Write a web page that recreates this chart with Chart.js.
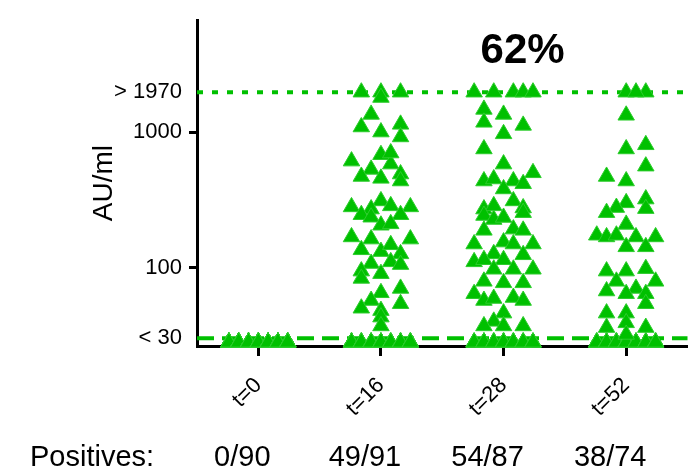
<!DOCTYPE html>
<html>
<head>
<meta charset="utf-8">
<script src="https://cdn.jsdelivr.net/npm/chart.js@4.4.1/dist/chart.umd.min.js"></script>
<style>
  html, body { margin: 0; padding: 0; background: #fff; }
  .chart-container { width: 698px; height: 472px; }
</style>
</head>
<body>
<div class="chart-container"><canvas id="chart" width="698" height="472"></canvas></div>
<script>
// time points on the x axis
const timepoints = ['t=0', 't=16', 't=28', 't=52'];

// y axis ticks (AU/ml) and their labels
const yTickValues = [30, 100, 1000, 1970];
const yTickLabels = ['< 30', '100', '1000', '> 1970'];

// assay cut-offs
const lowerCutoff = 30;
const upperCutoff = 1970;
const belowCutoffValue = 28; // samples under the cut-off are plotted here

// samples under the cut-off, counted per jitter slot (-3..3)
const negativesT0 = [12, 13, 13, 14, 13, 13, 12];
const negativesT16 = [6, 6, 6, 6, 6, 6, 6];
const negativesT28 = [4, 5, 5, 5, 5, 5, 4];
const negativesT52 = [5, 5, 5, 6, 5, 5, 5];

// samples over the cut-off: [jitter slot, AU/ml]
const positivesT0 = [];
const positivesT16 = [
  [-2, 1970], [0, 1970], [2, 1970], [0, 1800],
  [-1, 1350], [-2, 1090], [0, 1000], [2, 1140], [2, 920],
  [-3, 610], [0, 680], [-1, 530], [1, 580], [1, 700], [-2, 470], [0, 455], [2, 490], [2, 435],
  [-3, 280], [0, 310], [1, 285], [3, 280], [-1, 270],
  [-2, 245], [-1, 235], [2, 245], [0, 205], [1, 210],
  [-3, 168], [-1, 162], [3, 162],
  [-2, 135], [0, 131], [1, 147], [2, 126],
  [-1, 107], [1, 110], [2, 105],
  [-2, 94], [-2, 83], [0, 90],
  [2, 70], [0, 65], [-1, 57], [2, 54], [-2, 50], [0, 48], [0, 43], [0, 37]
];
const positivesT28 = [
  [-3, 1970], [-1, 1970], [1, 1970], [2, 1970], [3, 1970],
  [-2, 1470], [-2, 1180], [0, 1350], [0, 970], [2, 1120],
  [-2, 750], [0, 580], [3, 500],
  [-2, 435], [-1, 450], [1, 435], [2, 415], [0, 380],
  [1, 310], [-2, 270], [-1, 285], [2, 275],
  [-2, 242], [-1, 226], [0, 234], [2, 254],
  [-2, 188], [1, 192], [2, 188],
  [-3, 149], [0, 154], [1, 149], [3, 149],
  [-1, 126], [2, 124],
  [-3, 110], [-2, 114], [0, 114],
  [-1, 97], [1, 97], [3, 97],
  [-2, 79], [0, 77], [2, 77],
  [-3, 64], [-2, 57], [-1, 59], [1, 60], [2, 57],
  [0, 46], [-1, 40],
  [-2, 37], [0, 37], [2, 37]
];
const positivesT52 = [
  [0, 1970], [2, 1970], [1, 1970],
  [0, 1330],
  [0, 750], [2, 805], [2, 560],
  [-2, 470], [0, 435],
  [2, 320], [0, 300], [-1, 277], [2, 272], [-2, 254],
  [0, 208],
  [-3, 173], [-2, 168], [-1, 173], [1, 168], [3, 168],
  [0, 142], [2, 142],
  [-2, 94], [0, 94], [2, 98],
  [-1, 79], [1, 70], [3, 79],
  [-2, 67], [0, 64], [2, 64], [2, 54],
  [-2, 46], [0, 46], [0, 39], [-2, 36], [2, 36],
  [0, 32]
];

const negatives = [negativesT0, negativesT16, negativesT28, negativesT52];
const positives = [positivesT0, positivesT16, positivesT28, positivesT52];

const GREEN = '#00c000';
const FONT = "'Liberation Sans', Arial, sans-serif";
const SLOT = 0.08; // width of one jitter slot in x units

function groupPoints(i) {
  const pts = [];
  negatives[i].forEach((n, k) => {
    for (let j = 0; j < n; j++) pts.push({ x: i + (k - 3) * SLOT, y: belowCutoffValue });
  });
  positives[i].forEach(([slot, v]) => pts.push({ x: i + slot * SLOT, y: v }));
  return pts;
}

function cutoffLine(value, dash) {
  return {
    type: 'line',
    data: [{ x: -0.5, y: value }, { x: 3.5, y: value }],
    borderColor: GREEN,
    borderWidth: 4,
    borderDash: dash,
    pointRadius: 0,
    order: 2,
    clip: false
  };
}

const datasets = timepoints.map((t, i) => ({
  type: 'scatter',
  label: t,
  data: groupPoints(i),
  pointStyle: 'triangle',
  pointRadius: 9.5,
  backgroundColor: GREEN,
  borderColor: '#2ccc2c',
  borderWidth: 1,
  order: 1,
  clip: false
}));
datasets.push(cutoffLine(upperCutoff, [6, 9]));
datasets.push(cutoffLine(lowerCutoff, [17, 8]));

// fraction positive at each time point, and the headline figure for t=28
const totals = timepoints.map((t, i) => negatives[i].reduce((a, b) => a + b, 0) + positives[i].length);
const ratioLabels = timepoints.map((t, i) => positives[i].length + '/' + totals[i]);
const percent28 = Math.round(100 * positives[2].length / totals[2]) + '%';

const annotations = {
  id: 'annotations',
  afterDraw(chart) {
    const { ctx, scales } = chart;
    ctx.save();
    ctx.fillStyle = '#000';
    ctx.textBaseline = 'alphabetic';

    ctx.font = 'bold 42px ' + FONT;
    ctx.textAlign = 'center';
    ctx.fillText(percent28, scales.x.getPixelForValue(2) + 19, 63);

    ctx.font = '29px ' + FONT;
    ctx.textAlign = 'left';
    ctx.fillText('Positives:', 30, 466);
    ctx.textAlign = 'center';
    ratioLabels.forEach((label, i) => {
      ctx.fillText(label, scales.x.getPixelForValue(i) - 16, 466);
    });
    ctx.restore();
  }
};

new Chart(document.getElementById('chart'), {
  data: { datasets },
  options: {
    responsive: false,
    animation: false,
    devicePixelRatio: 1,
    layout: { padding: { top: 14, left: 0, right: 0, bottom: 0 } },
    plugins: { legend: { display: false }, tooltip: { enabled: false } },
    scales: {
      x: {
        type: 'linear',
        min: -0.5,
        max: 3.5,
        bounds: 'data',
        afterBuildTicks: (scale) => { scale.ticks = timepoints.map((t, i) => ({ value: i })); },
        afterFit: (scale) => { scale.height = 126; },
        border: { color: '#000', width: 3 },
        grid: { drawOnChartArea: false, tickLength: 10, tickWidth: 3, tickColor: '#000' },
        ticks: {
          autoSkip: false,
          minRotation: 45,
          maxRotation: 45,
          padding: 18,
          labelOffset: 0,
          color: '#000',
          font: { family: FONT, size: 22, lineHeight: 1 },
          callback: (v) => timepoints[v]
        }
      },
      y: {
        type: 'logarithmic',
        min: 26.3,
        max: 6700,
        bounds: 'data',
        afterBuildTicks: (scale) => { scale.ticks = yTickValues.map((v) => ({ value: v })); },
        afterFit: (scale) => { scale.width = 197; },
        border: { color: '#000', width: 3 },
        grid: {
          drawOnChartArea: false,
          tickLength: 8,
          tickWidth: 3,
          tickColor: (ctx) => (ctx.tick && (ctx.tick.value === 100 || ctx.tick.value === 1000)) ? '#000' : 'rgba(0,0,0,0)'
        },
        ticks: {
          padding: 7,
          color: '#000',
          font: { family: FONT, size: 22 },
          callback: (v, i) => yTickLabels[i]
        },
        title: {
          display: true,
          text: 'AU/ml',
          color: '#000',
          font: { family: FONT, size: 28 },
          padding: { top: 87, bottom: 0 }
        }
      }
    }
  },
  plugins: [annotations]
});
</script>
</body>
</html>
